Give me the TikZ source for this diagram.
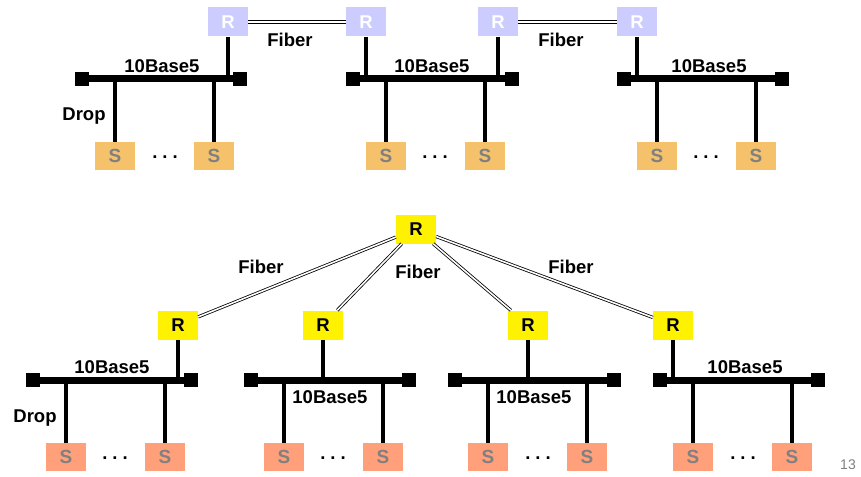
\documentclass[tikz,border=0pt]{standalone}
\usepackage{fontspec}
\setmainfont{Liberation Sans}
\usetikzlibrary{positioning, calc}
\definecolor{replav}{RGB}{204,204,255}
\definecolor{stnorange}{RGB}{245,194,107}
\definecolor{stnsalmon}{RGB}{255,160,122}
\definecolor{stntext}{RGB}{128,128,128}

\begin{document}
\begin{tikzpicture}[x=1pt, y=-1pt,
  lbl/.style={font=\fontsize{18.5}{20}\selectfont\bfseries},
  dots/.style={inner sep=0pt, font=\fontsize{18.5}{20}\selectfont\bfseries},
  rep/.style={minimum width=40pt, minimum height=29pt, inner sep=0pt, font=\fontsize{18.5}{20}\selectfont\bfseries},
  oldrep/.style={rep, fill=replav, text=white},
  newrep/.style={rep, fill=yellow, text=black},
  stn/.style={minimum width=40pt, minimum height=28pt, inner sep=0pt, text=stntext, font=\fontsize{19}{20}\selectfont\bfseries},
  term/.style={fill=black, minimum size=14pt, inner sep=0pt},
  bus/.style={line width=7pt},
  drop/.style={line width=3.2pt},
  fiber/.style={draw=black, line width=0.8pt, double=white, double distance=1.6pt}]
\useasboundingbox (0,0) rectangle (861,476);

% Top: repeaters in a chain
\node[oldrep] (ra) at (228,22) {R};
\node[oldrep] (rb) at (366,22) {R};
\node[oldrep] (rc) at (498,22) {R};
\node[oldrep] (rd) at (637,22) {R};
\draw[fiber] (ra) -- (rb);
\draw[fiber] (rc) -- (rd);
\node[lbl] at (290,40) {Fiber};
\node[lbl] at (561,40) {Fiber};

% Segment 1
\node[term] (a1) at (82,79) {};
\node[term] (a2) at (240,79) {};
\draw[bus] (a1) -- (a2);
\draw[drop] (ra) -- (ra |- a1);
\node[lbl] at (162,66) {10Base5};
\node[stn, fill=stnorange] (sa1) at (115,156) {S};
\node[stn, fill=stnorange] (sa2) at (214,156) {S};
\draw[drop] (sa1) -- (sa1 |- a1);
\draw[drop] (sa2) -- (sa2 |- a1);
\node[dots] at (165,157) {.\kern5pt.\kern5pt.};
\node[lbl] at (84,116) {Drop};

% Segment 2
\node[term] (b1) at (353,79) {};
\node[term] (b2) at (512,79) {};
\draw[bus] (b1) -- (b2);
\draw[drop] (rb) -- (rb |- b1);
\draw[drop] (rc) -- (rc |- b1);
\node[lbl] at (432,66) {10Base5};
\node[stn, fill=stnorange] (sb1) at (386,156) {S};
\node[stn, fill=stnorange] (sb2) at (485,156) {S};
\draw[drop] (sb1) -- (sb1 |- b1);
\draw[drop] (sb2) -- (sb2 |- b1);
\node[dots] at (435,157) {.\kern5pt.\kern5pt.};

% Segment 3
\node[term] (c1) at (624,79) {};
\node[term] (c2) at (782,79) {};
\draw[bus] (c1) -- (c2);
\draw[drop] (rd) -- (rd |- c1);
\node[lbl] at (709,66) {10Base5};
\node[stn, fill=stnorange] (sc1) at (657,156) {S};
\node[stn, fill=stnorange] (sc2) at (756,156) {S};
\draw[drop] (sc1) -- (sc1 |- c1);
\draw[drop] (sc2) -- (sc2 |- c1);
\node[dots] at (706,157) {.\kern5pt.\kern5pt.};

% Bottom: repeaters in a tree
\node[newrep] (hub) at (416,229) {R};
\node[newrep] (r1) at (178,325) {R};
\node[newrep] (r2) at (323,325) {R};
\node[newrep] (r3) at (528,325) {R};
\node[newrep] (r4) at (673,325) {R};
\draw[fiber] (hub) -- (r1);
\draw[fiber] (hub) -- (r2);
\draw[fiber] (hub) -- (r3);
\draw[fiber] (hub) -- (r4);
\node[lbl] at (261,267) {Fiber};
\node[lbl] at (418,272) {Fiber};
\node[lbl] at (571,267) {Fiber};

% Segment 4
\node[term] (d1) at (33,380) {};
\node[term] (d2) at (191,380) {};
\draw[bus] (d1) -- (d2);
\draw[drop] (r1) -- (r1 |- d1);
\node[lbl] at (112,367) {10Base5};
\node[stn, fill=stnsalmon] (sd1) at (66,457) {S};
\node[stn, fill=stnsalmon] (sd2) at (165,457) {S};
\draw[drop] (sd1) -- (sd1 |- d1);
\draw[drop] (sd2) -- (sd2 |- d1);
\node[dots] at (115,458) {.\kern5pt.\kern5pt.};
\node[lbl] at (35,418) {Drop};

% Segment 5
\node[term] (e1) at (251,380) {};
\node[term] (e2) at (409,380) {};
\draw[bus] (e1) -- (e2);
\draw[drop] (r2) -- (r2 |- e1);
\node[lbl] at (330,397) {10Base5};
\node[stn, fill=stnsalmon] (se1) at (284,457) {S};
\node[stn, fill=stnsalmon] (se2) at (383,457) {S};
\draw[drop] (se1) -- (se1 |- e1);
\draw[drop] (se2) -- (se2 |- e1);
\node[dots] at (333,458) {.\kern5pt.\kern5pt.};

% Segment 6
\node[term] (f1) at (455,380) {};
\node[term] (f2) at (614,380) {};
\draw[bus] (f1) -- (f2);
\draw[drop] (r3) -- (r3 |- f1);
\node[lbl] at (534,397) {10Base5};
\node[stn, fill=stnsalmon] (sf1) at (488,457) {S};
\node[stn, fill=stnsalmon] (sf2) at (587,457) {S};
\draw[drop] (sf1) -- (sf1 |- f1);
\draw[drop] (sf2) -- (sf2 |- f1);
\node[dots] at (538,458) {.\kern5pt.\kern5pt.};

% Segment 7
\node[term] (g1) at (660,380) {};
\node[term] (g2) at (818,380) {};
\draw[bus] (g1) -- (g2);
\draw[drop] (r4) -- (r4 |- g1);
\node[lbl] at (745,367) {10Base5};
\node[stn, fill=stnsalmon] (sg1) at (693,457) {S};
\node[stn, fill=stnsalmon] (sg2) at (792,457) {S};
\draw[drop] (sg1) -- (sg1 |- g1);
\draw[drop] (sg2) -- (sg2 |- g1);
\node[dots] at (743,458) {.\kern5pt.\kern5pt.};

% Page number
\node[text=gray, font=\fontsize{14}{15}\selectfont] at (848,465) {13};
\end{tikzpicture}
\end{document}
